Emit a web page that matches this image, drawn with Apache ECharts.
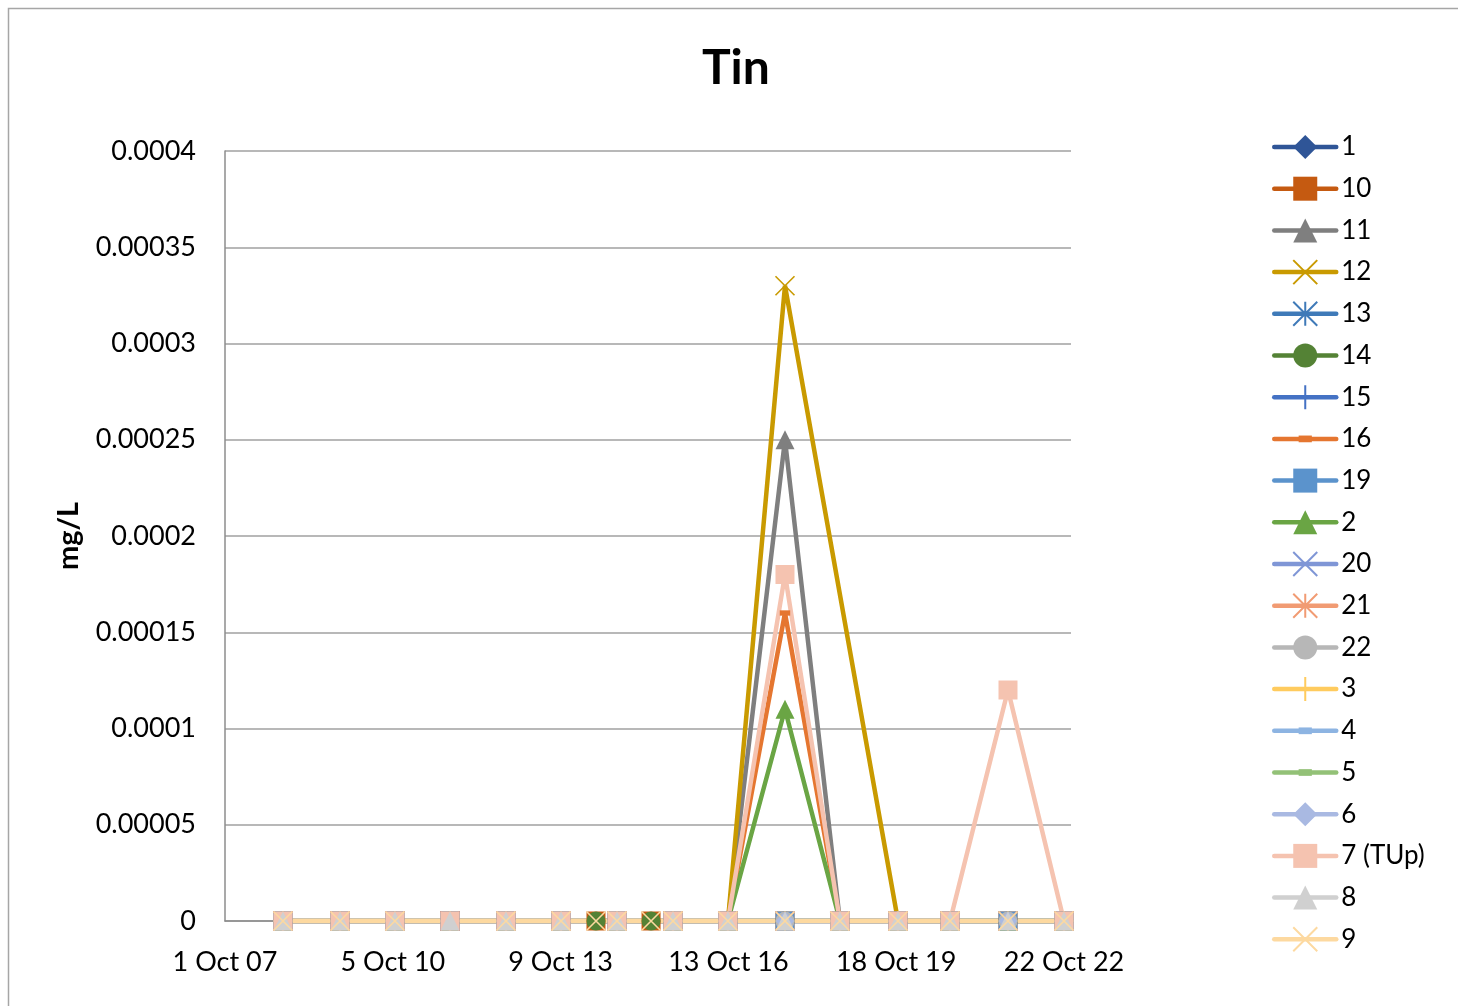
<!DOCTYPE html>
<html>
<head>
<meta charset="utf-8">
<title>Tin</title>
<script src="https://cdn.jsdelivr.net/npm/echarts@6/dist/echarts.min.js"></script>
<style>
  html, body { margin: 0; padding: 0; background: #fff; }
  #chart { width: 1458px; height: 1006px; }
</style>
</head>
<body>
<div id="chart"></div>
<script>
// Sampling dates (all series share this list; null = not sampled)
const dates = ['2008-10-15','2009-10-24','2010-10-19','2011-10-15','2012-10-16','2013-10-12',
  '2014-05-29','2014-10-14','2015-05-25','2015-10-16','2016-10-10','2017-10-19',
  '2018-10-14','2019-10-30','2020-10-05','2021-10-20','2022-10-22'];

// Tin concentrations (mg/L) per site
const s1   = [0,0,0,0,0,0,null,0,null,0,0,0,0,0,0,0,0];
const s10  = [0,0,0,0,0,0,0,0,0,0,0,0,0,0,0,0,0];
const s11  = [0,0,0,0,0,0,null,0,null,0,0,0.00025,0,0,0,0,0];
const s12  = [0,0,0,0,0,0,null,0,null,0,0,0.00033,null,0,0,0,0];
const s13  = [0,0,0,0,0,0,null,0,null,0,0,0,0,0,0,0,0];
const s14  = [0,0,0,0,0,0,0,0,0,0,0,0,0,0,0,0,0];
const s15  = [0,0,0,0,0,0,null,0,null,0,0,0,0,0,0,0,0];
const s16  = [0,0,0,0,0,0,null,0,null,0,0,0.00016,0,0,0,0,0];
const s19  = [0,0,0,0,0,0,null,0,null,0,0,0,0,0,0,0,0];
const s2   = [0,0,0,0,0,0,null,0,null,0,0,0.00011,0,0,0,0,0];
const s20  = [0,0,0,0,0,0,null,0,null,0,0,0,0,0,0,0,0];
const s21  = [0,0,0,0,0,0,null,0,null,0,0,0,0,0,0,0,0];
const s22  = [0,0,0,0,0,0,null,0,null,0,0,0,0,0,0,0,0];
const s3   = [0,0,0,0,0,0,null,0,null,0,0,0,0,0,0,0,0];
const s4   = [0,0,0,0,0,0,null,0,null,0,0,0,0,0,0,0,0];
const s5   = [0,0,0,0,0,0,null,0,null,0,0,0,0,0,0,0,0];
const s6   = [0,0,0,0,0,0,null,0,null,0,0,0,0,0,0,0,0];
const s7   = [0,0,0,0,0,0,null,0,null,0,0,0.00018,0,0,0,0.00012,0];
const s8   = [0,0,0,0,0,0,null,0,null,0,0,0,0,0,0,0,0];
const s9   = [0,0,0,null,0,0,0,0,0,0,0,0,0,0,0,0,0];

// Axis ticks
const yTicks = [0, 0.00005, 0.0001, 0.00015, 0.0002, 0.00025, 0.0003, 0.00035, 0.0004];
const xStart = '2007-10-01';
const xTickDays = 1100;
const xEndDays = 5546;

const MONTHS = ['Jan','Feb','Mar','Apr','May','Jun','Jul','Aug','Sep','Oct','Nov','Dec'];
const DAY = 86400000;
const t0 = Date.parse(xStart + 'T00:00:00Z');
const toDays = d => Math.round((Date.parse(d + 'T00:00:00Z') - t0) / DAY);
const fmtDate = days => {
  const d = new Date(t0 + days * DAY);
  return d.getUTCDate() + ' ' + MONTHS[d.getUTCMonth()] + ' ' + String(d.getUTCFullYear()).slice(2);
};

// Marker shapes: stroked cross, asterisk, plus; a short dash inside a square frame
const X = 'path://M0,0L10,10M10,0L0,10';
const STAR = 'path://M5,0V10M0,0L10,10M10,0L0,10';
const PLUS = 'path://M5,0V10M0,5H10';
const DASH = 'path://M0,0M20,20M4.5,7.2H15.5V12.8H4.5Z';

const sites = [
  { name: '1',       values: s1,  color: '#2F5597', symbol: 'diamond' },
  { name: '10',      values: s10, color: '#C55A11', symbol: 'rect' },
  { name: '11',      values: s11, color: '#7F7F7F', symbol: 'triangle' },
  { name: '12',      values: s12, color: '#C99A00', symbol: X,    stroke: true },
  { name: '13',      values: s13, color: '#3F7AB8', symbol: STAR, stroke: true },
  { name: '14',      values: s14, color: '#548235', symbol: 'circle' },
  { name: '15',      values: s15, color: '#4472C4', symbol: PLUS, stroke: true },
  { name: '16',      values: s16, color: '#E57630', symbol: DASH },
  { name: '19',      values: s19, color: '#5B93CC', symbol: 'rect' },
  { name: '2',       values: s2,  color: '#6AA544', symbol: 'triangle' },
  { name: '20',      values: s20, color: '#7F96D6', symbol: X,    stroke: true },
  { name: '21',      values: s21, color: '#F19B73', symbol: STAR, stroke: true },
  { name: '22',      values: s22, color: '#B7B7B7', symbol: 'circle' },
  { name: '3',       values: s3,  color: '#FFCB5E', symbol: PLUS, stroke: true },
  { name: '4',       values: s4,  color: '#8DB4E2', symbol: DASH },
  { name: '5',       values: s5,  color: '#93C177', symbol: DASH },
  { name: '6',       values: s6,  color: '#A9B9E2', symbol: 'diamond' },
  { name: '7 (TUp)', values: s7,  color: '#F5C3B0', symbol: 'rect' },
  { name: '8',       values: s8,  color: '#D0D0D0', symbol: 'triangle' },
  { name: '9',       values: s9,  color: '#FDD9A0', symbol: X,    stroke: true }
];

const FONT = 'Lato, "Open Sans", sans-serif';

const series = sites.map(s => ({
  name: s.name,
  type: 'line',
  data: dates.map((d, i) => [toDays(d), s.values[i]]).filter(p => p[1] !== null),
  symbol: s.symbol,
  symbolSize: 19,
  showAllSymbol: true,
  lineStyle: { color: s.color, width: 4.5, cap: 'round' },
  itemStyle: s.stroke
    ? { color: s.color, borderColor: s.color, borderWidth: 1.6 }
    : { color: s.color, borderColor: s.color, borderWidth: 0 },
  emphasis: { disabled: true },
  animation: false
}));

const chart = echarts.init(document.getElementById('chart'), null, { renderer: 'canvas' });
chart.setOption({
  backgroundColor: '#ffffff',
  animation: false,
  title: {
    text: 'Tin',
    left: 697,
    top: 40,
    textStyle: { fontFamily: FONT, fontSize: 48, fontWeight: 'bold', color: '#000' }
  },
  graphic: [{
    type: 'rect',
    shape: { x: 8.5, y: 8.5, width: 1470, height: 1010 },
    style: { fill: 'none', stroke: '#A6A6A6', lineWidth: 1.5 },
    silent: true
  }],
  legend: {
    orient: 'vertical',
    left: 1272,
    top: 134,
    itemWidth: 62,
    itemHeight: 30,
    itemGap: 15.7,
    padding: 0,
    lineStyle: { width: 'inherit' },
    textStyle: { fontFamily: FONT, fontSize: 26, color: '#000' },
    data: sites.map(s => s.name)
  },
  grid: { left: 225, top: 151, right: 387, bottom: 85, containLabel: false },
  xAxis: {
    type: 'value',
    min: 0,
    max: xEndDays,
    interval: xTickDays,
    axisLine: { show: true, lineStyle: { color: '#8C8C8C', width: 1.5 } },
    axisTick: { show: false },
    splitLine: { show: false },
    axisLabel: {
      margin: 28,
      fontFamily: FONT,
      fontSize: 27,
      color: '#000',
      showMaxLabel: false,
      formatter: v => (v % xTickDays === 0 ? fmtDate(v) : '')
    }
  },
  yAxis: {
    type: 'value',
    min: yTicks[0],
    max: yTicks[yTicks.length - 1],
    interval: yTicks[1] - yTicks[0],
    name: 'mg/L',
    nameLocation: 'middle',
    nameRotate: 90,
    nameGap: 142,
    nameTextStyle: { fontFamily: FONT, fontSize: 29, fontWeight: 'bold', color: '#000' },
    axisLine: { show: true, lineStyle: { color: '#8C8C8C', width: 1.5 } },
    axisTick: { show: false },
    splitLine: { show: true, lineStyle: { color: '#A0A0A0', width: 1.5 } },
    axisLabel: {
      margin: 29,
      fontFamily: FONT,
      fontSize: 27,
      color: '#000',
      formatter: v => (v === 0 ? '0' : String(+v.toFixed(5)))
    }
  },
  series: series
});
</script>
</body>
</html>
